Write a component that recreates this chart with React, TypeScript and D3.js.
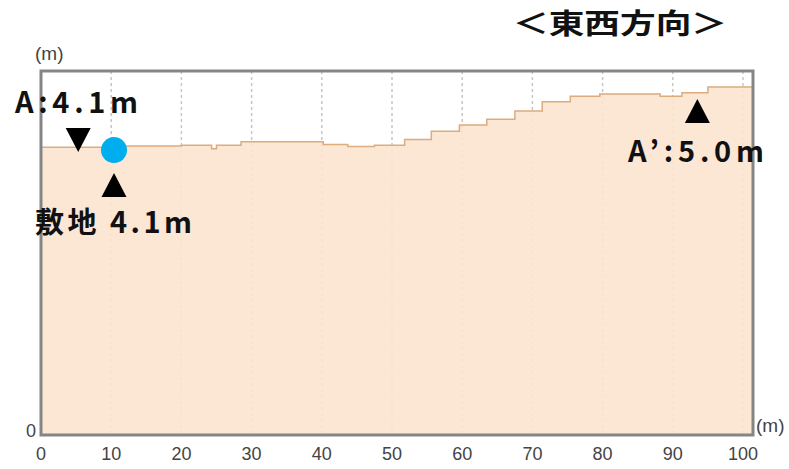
import { useEffect, useRef } from "react";
import * as d3 from "d3";

// cross-section profile, east-west direction
const distances = [0, 10, 20, 24.3, 25, 28.5, 40.2, 43.7, 47.5, 51.8, 55.6, 59.6, 63.5, 67.5, 71.4, 75.4, 79.6, 88.2, 91.3, 95, 101.4];
const elevations = [4.11, 4.13, 4.14, 4.09, 4.14, 4.19, 4.15, 4.12, 4.14, 4.22, 4.34, 4.43, 4.51, 4.63, 4.76, 4.84, 4.87, 4.84, 4.89, 4.97, 4.97];
const xTicks = [0, 10, 20, 30, 40, 50, 60, 70, 80, 90, 100];
const site = { x: 10.4, y: 4.07 };
const pointA = 5.3;
const pointA2 = 93.5;

const App = () => {
  const svgRef = useRef<SVGSVGElement | null>(null);

  useEffect(() => {
    if (!svgRef.current) return;
    const svg = d3.select(svgRef.current);
    svg.selectAll("*").remove();

    const left = 41;
    const right = 753;
    const top = 71;
    const bottom = 435;

    const x = d3.scaleLinear().domain([0, 100]).range([left, 743]);
    const y = d3.scaleLinear().domain([0, 5.2]).range([bottom, top]);

    const pts = distances.map((d, i) => [d, elevations[i]] as [number, number]);

    // gridlines
    svg
      .append("g")
      .selectAll("line")
      .data(xTicks.slice(1))
      .enter()
      .append("line")
      .attr("x1", (d) => x(d))
      .attr("x2", (d) => x(d))
      .attr("y1", top)
      .attr("y2", bottom)
      .attr("stroke", "#c6c6c6")
      .attr("stroke-width", 1.5)
      .attr("stroke-dasharray", "3,3");

    const area = d3
      .area<[number, number]>()
      .x((d) => x(d[0]))
      .y0(bottom)
      .y1((d) => y(d[1]))
      .curve(d3.curveStepAfter);

    svg.append("path").datum(pts).attr("d", area).attr("fill", "#fce3cf").attr("fill-opacity", 0.9);

    const line = d3
      .line<[number, number]>()
      .x((d) => x(d[0]))
      .y((d) => y(d[1]))
      .curve(d3.curveStepAfter);

    svg
      .append("path")
      .datum(pts)
      .attr("d", line)
      .attr("fill", "none")
      .attr("stroke", "#dcab7e")
      .attr("stroke-width", 1.5);

    // frame
    svg
      .append("rect")
      .attr("x", left)
      .attr("y", top)
      .attr("width", right - left)
      .attr("height", bottom - top)
      .attr("fill", "none")
      .attr("stroke", "#858585")
      .attr("stroke-width", 3);

    // axis labels
    svg
      .append("g")
      .selectAll("text")
      .data(xTicks)
      .enter()
      .append("text")
      .attr("x", (d) => x(d))
      .attr("y", 460)
      .attr("text-anchor", "middle")
      .attr("font-family", "Liberation Sans, Arial, sans-serif")
      .attr("font-size", 18)
      .attr("fill", "#444")
      .text((d) => d);

    svg
      .append("text")
      .attr("x", 36)
      .attr("y", 437)
      .attr("text-anchor", "end")
      .attr("font-family", "Liberation Sans, Arial, sans-serif")
      .attr("font-size", 18)
      .attr("fill", "#444")
      .text("0");

    svg
      .append("text")
      .attr("x", 35)
      .attr("y", 60)
      .attr("font-family", "Liberation Sans, Arial, sans-serif")
      .attr("font-size", 19)
      .attr("fill", "#444")
      .text("(m)");

    svg
      .append("text")
      .attr("x", 756)
      .attr("y", 432)
      .attr("font-family", "Liberation Sans, Arial, sans-serif")
      .attr("font-size", 19)
      .attr("fill", "#444")
      .text("(m)");

    // annotations
    const tri = (cx: number, ty: number, down: boolean) => {
      const w = 12.5;
      const h = 24;
      const p = down
        ? `M${cx - w},${ty}L${cx + w},${ty}L${cx},${ty + h}Z`
        : `M${cx},${ty}L${cx + w},${ty + h}L${cx - w},${ty + h}Z`;
      svg.append("path").attr("d", p).attr("fill", "#000");
    };
    tri(x(pointA), 128, true);
    tri(x(site.x), 173, false);
    tri(x(pointA2), 99, false);

    svg
      .append("circle")
      .attr("cx", x(site.x))
      .attr("cy", y(site.y))
      .attr("r", 13)
      .attr("fill", "#00aeef");

    const label = (t: string, lx: number, ly: number, len: number, size = 29, adjust = "spacing") => {
      svg
        .append("text")
        .attr("x", lx)
        .attr("y", ly)
        .attr("font-family", "Noto Sans CJK JP, sans-serif")
        .attr("font-weight", "bold")
        .attr("font-size", size)
        .attr("fill", "#111")
        .attr("textLength", len)
        .attr("lengthAdjust", adjust)
        .text(t);
    };
    label("＜東西方向＞", 513, 34, 214, 28, "spacingAndGlyphs");
    label("A:4.1m", 15, 113, 123);
    label("A’:5.0m", 628, 162, 136);
    label("敷地 4.1m", 35, 233, 157);
  }, []);

  return (
    <svg
      ref={svgRef}
      width={789}
      height={469}
      style={{ position: "absolute", left: 0, top: 0, background: "#fff" }}
    ></svg>
  );
};

export default App;
